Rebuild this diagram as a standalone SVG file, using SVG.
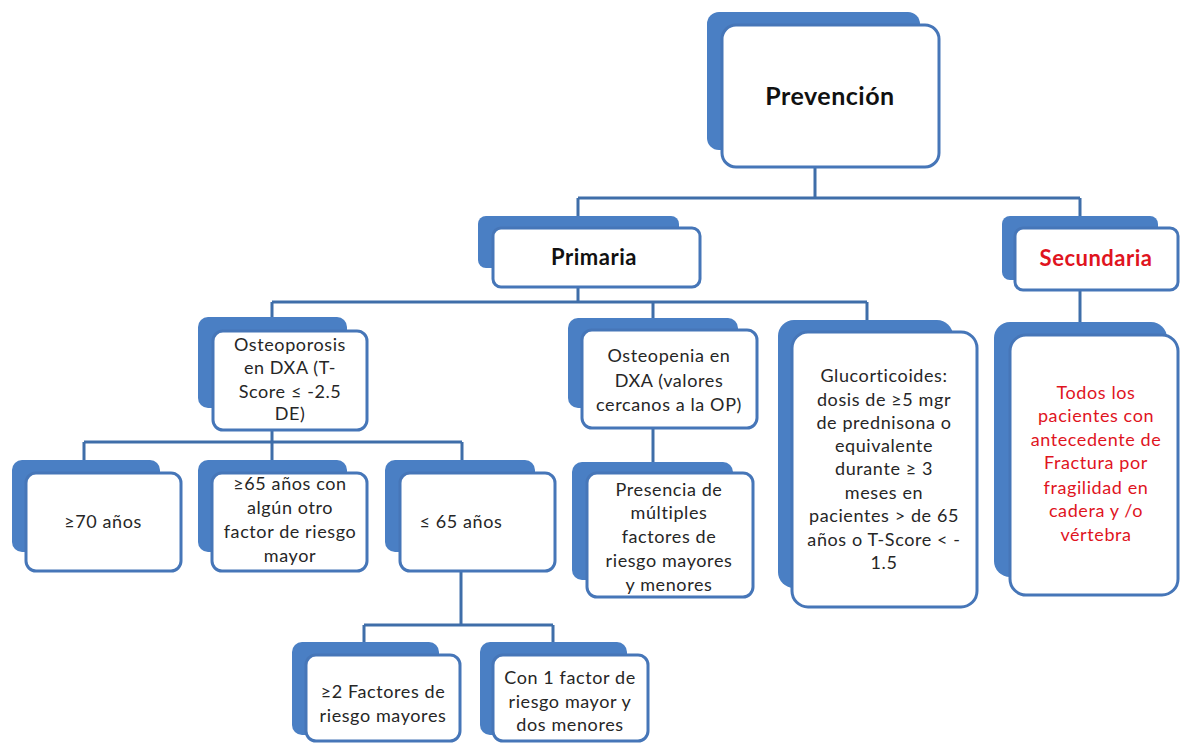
<svg xmlns="http://www.w3.org/2000/svg" width="1180" height="747" viewBox="0 0 1180 747">
  <style>
    .back { fill: #4a7fc4; }
    .front { fill: #ffffff; stroke: #4676b8; stroke-width: 3; }
    .wire { fill: none; stroke: #3f6ea9; stroke-width: 3; }
    text { font-family: Lato, "Open Sans", "Liberation Sans", sans-serif; font-size: 18px; letter-spacing: 0.6px; fill: #262626; text-anchor: middle; }
    .title { font-weight: bold; font-size: 25px; letter-spacing: 0.5px; fill: #111; }
    .head { font-weight: bold; font-size: 22px; letter-spacing: 0.5px; fill: #111; }
    .red { fill: #e0141e; }
  </style>
  <rect width="1180" height="747" fill="#ffffff"/>

  <g id="connectors">
    <path class="wire" d="M815 167 V198 M578 198 H1080 M578 198 V228 M1080 198 V228"/>
    <path class="wire" d="M578 287 V302 M272 302 H867 M272 302 V331 M653 302 V330 M867 302 V332"/>
    <path class="wire" d="M1080 290 V335"/>
    <path class="wire" d="M272 430 V442 M84 442 H462 M84 442 V473 M272 442 V473 M462 442 V473"/>
    <path class="wire" d="M653 428 V473"/>
    <path class="wire" d="M461 572 V625 M364 625 H553 M364 625 V655 M553 625 V655"/>
  </g>

  <g id="prevencion">
    <rect class="back" x="707" y="12" width="213" height="138" rx="12"/>
    <rect class="front" x="722" y="25" width="217" height="142" rx="14"/>
    <text class="title" x="830" y="105">Prevención</text>
  </g>

  <g id="primaria">
    <rect class="back" x="478" y="216" width="201" height="52" rx="8"/>
    <rect class="front" x="493" y="228" width="207" height="59" rx="8"/>
    <text class="head" x="594" y="265">Primaria</text>
  </g>

  <g id="secundaria">
    <rect class="back" x="1002" y="216" width="156" height="64" rx="8"/>
    <rect class="front" x="1015" y="228" width="163" height="62" rx="8"/>
    <text class="head red" x="1096" y="266">Secundaria</text>
  </g>

  <g id="fractura">
    <rect class="back" x="994" y="322" width="173" height="255" rx="16"/>
    <rect class="front" x="1010" y="335" width="168" height="260" rx="16"/>
    <text class="red" x="1096" y="399">Todos los</text>
    <text class="red" x="1096" y="422">pacientes con</text>
    <text class="red" x="1096" y="446">antecedente de</text>
    <text class="red" x="1096" y="469">Fractura por</text>
    <text class="red" x="1096" y="494">fragilidad en</text>
    <text class="red" x="1096" y="517">cadera y /o</text>
    <text class="red" x="1096" y="541">vértebra</text>
  </g>

  <g id="osteoporosis">
    <rect class="back" x="198" y="317" width="149" height="91" rx="10"/>
    <rect class="front" x="213" y="331" width="154" height="99" rx="10"/>
    <text x="290" y="351">Osteoporosis</text>
    <text x="290" y="374">en DXA (T-</text>
    <text x="290" y="398">Score  ≤ -2.5</text>
    <text x="290" y="420">DE)</text>
  </g>

  <g id="osteopenia">
    <rect class="back" x="568" y="318" width="170" height="90" rx="10"/>
    <rect class="front" x="582" y="330" width="175" height="98" rx="10"/>
    <text x="669" y="362">Osteopenia en</text>
    <text x="669" y="387">DXA (valores</text>
    <text x="669" y="411">cercanos a la OP)</text>
  </g>

  <g id="glucorticoides">
    <rect class="back" x="778" y="320" width="175" height="268" rx="16"/>
    <rect class="front" x="792" y="332" width="185" height="275" rx="16"/>
    <text x="884" y="382">Glucorticoides:</text>
    <text x="884" y="406">dosis de ≥5 mgr</text>
    <text x="884" y="429">de prednisona  o</text>
    <text x="884" y="452">equivalente</text>
    <text x="884" y="475">durante ≥ 3</text>
    <text x="884" y="499">meses  en</text>
    <text x="884" y="522">pacientes &gt; de 65</text>
    <text x="884" y="546">años o T-Score &lt; -</text>
    <text x="884" y="569">1.5</text>
  </g>

  <g id="mayor70">
    <rect class="back" x="12" y="460" width="148" height="92" rx="10"/>
    <rect class="front" x="26" y="473" width="155" height="98" rx="10"/>
    <text x="103" y="528">≥70 años</text>
  </g>

  <g id="mayor65">
    <rect class="back" x="198" y="460" width="149" height="92" rx="10"/>
    <rect class="front" x="212" y="473" width="155" height="98" rx="10"/>
    <text x="290" y="490">≥65 años con</text>
    <text x="290" y="514">algún otro</text>
    <text x="290" y="538">factor de riesgo</text>
    <text x="290" y="562">mayor</text>
  </g>

  <g id="menor65">
    <rect class="back" x="385" y="460" width="150" height="92" rx="10"/>
    <rect class="front" x="400" y="473" width="155" height="98" rx="10"/>
    <text x="461" y="528">≤ 65 años</text>
  </g>

  <g id="presencia">
    <rect class="back" x="572" y="462" width="161" height="118" rx="10"/>
    <rect class="front" x="587" y="473" width="166" height="124" rx="10"/>
    <text x="669" y="496">Presencia de</text>
    <text x="669" y="519">múltiples</text>
    <text x="669" y="543">factores de</text>
    <text x="669" y="567">riesgo mayores</text>
    <text x="669" y="591">y menores</text>
  </g>

  <g id="factores2">
    <rect class="back" x="292" y="642" width="147" height="93" rx="10"/>
    <rect class="front" x="306" y="655" width="154" height="86" rx="10"/>
    <text x="383" y="698">≥2 Factores de</text>
    <text x="383" y="722">riesgo mayores</text>
  </g>

  <g id="factor1">
    <rect class="back" x="480" y="642" width="147" height="93" rx="10"/>
    <rect class="front" x="493" y="655" width="155" height="86" rx="10"/>
    <text x="570" y="684">Con 1 factor de</text>
    <text x="570" y="708">riesgo mayor y</text>
    <text x="570" y="731">dos menores</text>
  </g>
</svg>
